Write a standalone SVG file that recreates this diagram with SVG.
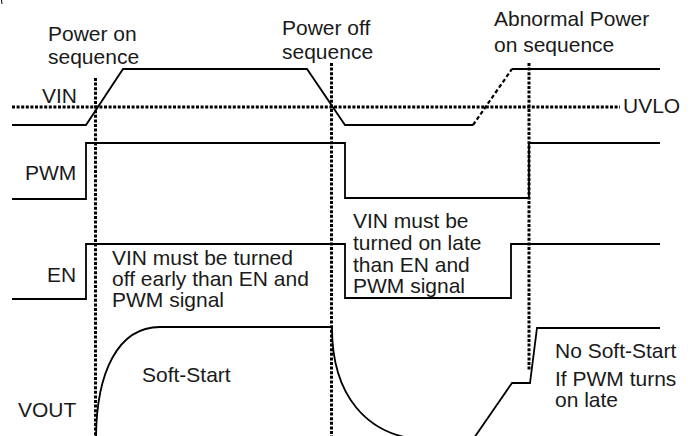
<svg xmlns="http://www.w3.org/2000/svg" width="696" height="436" viewBox="0 0 696 436">
<style>
text{font-family:"Liberation Sans",Arial,sans-serif;font-size:21px;fill:#1a1a1a}
.w{fill:none;stroke:#000;stroke-width:1.8;stroke-linejoin:miter}
.dot{fill:none;stroke:#000;stroke-width:3;stroke-dasharray:3 1.6}
.dash{fill:none;stroke:#000;stroke-width:2.2;stroke-dasharray:4 2.5}
</style>
<rect width="696" height="436" fill="#fff"/>
<line x1="1.5" y1="0" x2="2" y2="4" stroke="#000" stroke-width="1"/>
<g id="titles">
<text x="48" y="40.5">Power on</text>
<text x="48" y="64">sequence</text>
<text x="282" y="35">Power off</text>
<text x="282" y="59">sequence</text>
<text x="494" y="26">Abnormal Power</text>
<text x="494" y="52">on sequence</text>
</g>
<g id="uvlo">
<line class="dot" x1="12" y1="107" x2="620" y2="107"/>
<text x="623" y="113">UVLO</text>
</g>
<g id="vin">
<text x="42" y="103">VIN</text>
<polyline class="w" points="12,125 86,125 123,69 307,69 345,125 473,125"/>
<line class="dash" x1="473" y1="125" x2="512" y2="69"/>
<line class="w" x1="512" y1="69" x2="660" y2="69"/>
</g>
<g id="pwm">
<text x="25" y="180">PWM</text>
<polyline class="w" points="12,199 86,199 86,143 345,143 345,198 529,198 529,143 660,143"/>
</g>
<g id="en">
<text x="47" y="282">EN</text>
<polyline class="w" points="12,299 86,299 86,244 345,244 345,298 511,298 511,244 660,244"/>
</g>
<g id="vout">
<text x="18" y="417">VOUT</text>
<path class="w" d="M96,440 C96,372 118,327 160,327 L332,327"/>
<path class="w" d="M332,328 C332,392 364,438 428,440"/>
<polyline class="w" points="474,438 512,383 530,383 537,328 660,328"/>
</g>
<g id="markers">
<line class="dot" x1="95.5" y1="78" x2="95.5" y2="436"/>
<line class="dot" x1="331.5" y1="63" x2="331.5" y2="436"/>
<line class="dot" x1="529" y1="63" x2="529" y2="371"/>
</g>
<g id="notes">
<text x="112" y="265">VIN must be turned</text>
<text x="112" y="286">off early than EN and</text>
<text x="112" y="307">PWM signal</text>
<text x="353" y="228">VIN must be</text>
<text x="353" y="250">turned on late</text>
<text x="353" y="272">than EN and</text>
<text x="353" y="293">PWM signal</text>
<text x="142" y="382">Soft-Start</text>
<text x="555" y="358">No Soft-Start</text>
<text x="555" y="386">If PWM turns</text>
<text x="555" y="407">on late</text>
</g>
</svg>
